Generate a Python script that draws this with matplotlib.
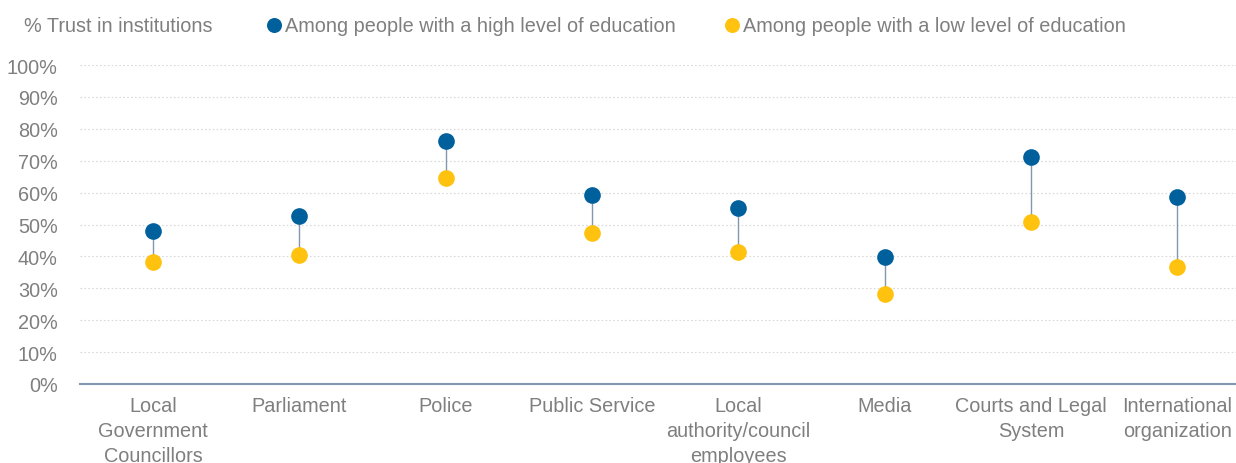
import numpy as np
import matplotlib
matplotlib.use('Agg')
import matplotlib.pyplot as plt

plt.rcParams['font.family'] = ['Liberation Sans Narrow', 'Liberation Sans', 'DejaVu Sans']

# data
categories = ['Local\nGovernment\nCouncillors', 'Parliament', 'Police', 'Public Service',
              'Local\nauthority/council\nemployees', 'Media', 'Courts and Legal\nSystem',
              'International\norganization']
high_edu = [48.0, 52.7, 76.2, 59.2, 55.2, 39.8, 71.2, 58.6]
low_edu = [38.2, 40.4, 64.6, 47.3, 41.4, 28.2, 50.8, 36.7]
yticks = [0, 10, 20, 30, 40, 50, 60, 70, 80, 90, 100]
ytick_labels = ['%d%%' % v for v in yticks]

blue = '#00609c'
yellow = '#ffc20e'
grey = '#7f7f7f'
slate = '#8497b0'

fig = plt.figure(figsize=(12.36, 4.64), dpi=100)
ax = fig.add_axes([80/1236., 79/464., 1 - 80/1236., (385-66)/464.])

x = np.arange(len(categories))
for i in range(len(x)):
    ax.plot([x[i], x[i]], [low_edu[i], high_edu[i]], color=slate, lw=1.0, zorder=2)
ax.plot(x, high_edu, 'o', color=blue, ms=12, mec='none', zorder=3,
        label='Among people with a high level of education', clip_on=False)
ax.plot(x, low_edu, 'o', color=yellow, ms=12, mec='none', zorder=3,
        label='Among people with a low level of education', clip_on=False)

ax.set_xlim(-0.5, 7.4)
ax.set_ylim(0, 100)
ax.set_yticks(yticks)
ax.set_yticklabels(ytick_labels)
ax.set_xticks(x)
ax.set_xticklabels(categories, linespacing=1.4)
ax.tick_params(axis='both', length=0, labelsize=14.3, labelcolor=grey)
ax.tick_params(axis='y', pad=16)
ax.tick_params(axis='x', pad=9)

for y in yticks[1:]:
    ax.axhline(y, color='#d9d9d9', lw=0.8, ls=(0, (1.5, 2)), zorder=1)
for s in ['top', 'right', 'left']:
    ax.spines[s].set_visible(False)
ax.spines['bottom'].set_color(slate)
ax.spines['bottom'].set_linewidth(1.5)

fig.text(24/1236., 1 - 27/464., '% Trust in institutions', fontsize=14.3, color=grey,
         va='center', ha='left')
leg = ax.legend(loc='center left', bbox_to_anchor=(264/1236., 1 - 27/464.),
                bbox_transform=fig.transFigure, ncol=2, frameon=False, fontsize=14.3,
                handletextpad=0.05, columnspacing=2.35, markerscale=0.9, handlelength=1.0,
                borderaxespad=0, borderpad=0)
for t in leg.get_texts():
    t.set_color(grey)

fig.savefig('out.png', dpi=100)
